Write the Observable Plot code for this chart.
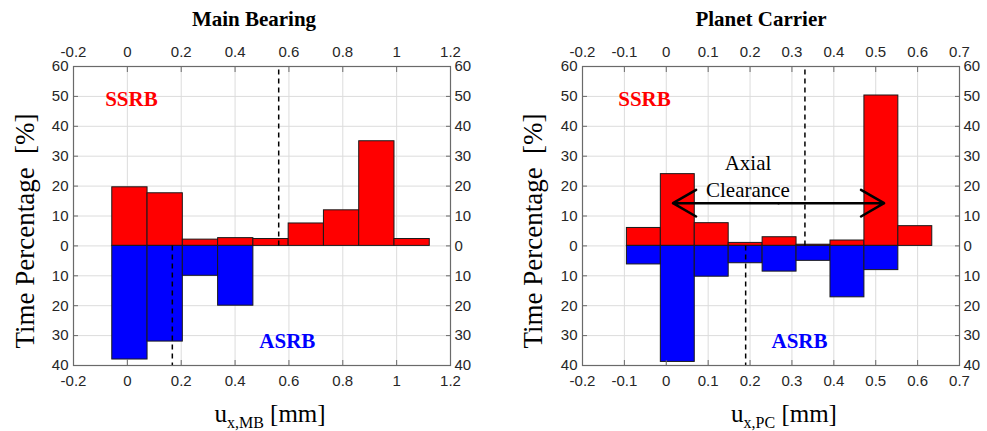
<!DOCTYPE html>
<html>
<head>
<meta charset="utf-8">
<script src="https://cdn.jsdelivr.net/npm/d3@7"></script>
<script src="https://cdn.jsdelivr.net/npm/@observablehq/plot@0.6"></script>
<style>
  html, body { margin: 0; padding: 0; background: #fff; }
  #wrap { display: flex; flex-direction: row; width: 987px; height: 431px; }
  #wrap svg { display: block; overflow: visible; }
</style>
</head>
<body>
<div id="wrap"></div>
<script>
// ---------- DATA ----------
// Main Bearing histogram
const mbBinEdges = [-0.056, 0.075, 0.206, 0.337, 0.468, 0.599, 0.730, 0.861, 0.992, 1.123];
const mbSSRB = [19.6, 17.6, 2.1, 2.6, 2.3, 7.5, 11.9, 35.0, 2.3];
const mbASRB = [38.0, 32.0, 10.0, 20.0, 0, 0, 0, 0, 0];
const mbDashTop = 0.562;     // dashed line, upper half
const mbDashBottom = 0.167;  // dashed line, lower half
const mbXTicks = [-0.2, 0, 0.2, 0.4, 0.6, 0.8, 1, 1.2];

// Planet Carrier histogram
const pcBinEdges = [-0.094, -0.013, 0.068, 0.149, 0.230, 0.311, 0.392, 0.473, 0.554, 0.635];
const pcSSRB = [6.0, 24.0, 7.6, 1.0, 2.9, 0.4, 1.8, 50.3, 6.6];
const pcASRB = [6.2, 38.8, 10.3, 5.8, 8.6, 5.0, 17.2, 8.1, 0];
const pcDashTop = 0.331;
const pcDashBottom = 0.1895;
const pcXTicks = [-0.2, -0.1, 0, 0.1, 0.2, 0.3, 0.4, 0.5, 0.6, 0.7];
const pcArrowEnds = [0.016, 0.520];
const pcArrowY = 14.3;

const yTicks = [-40, -30, -20, -10, 0, 10, 20, 30, 40, 50, 60];
const titles = ["Main Bearing", "Planet Carrier"];
const yLabel = "Time Percentage  [%]";

// ---------- DRAW ----------
const AXIS = "#6a6a6a";
const TXT = "#262626";
const SERIF = "'Liberation Serif', 'Times New Roman', serif";

function panel(o) {
  const bins = o.ssrb.map((v, i) => ({x1: o.edges[i], x2: o.edges[i + 1], ssrb: v, asrb: o.asrb[i]}));
  const fmt = d => String(Math.round(d * 10) / 10);
  const marks = [
    Plot.gridX(o.xTicks, {stroke: "#dcdcdc", strokeOpacity: 1}),
    Plot.gridY(yTicks, {stroke: "#dcdcdc", strokeOpacity: 1}),
    Plot.rect(bins.filter(d => d.ssrb > 0), {x1: "x1", x2: "x2", y1: () => 0, y2: "ssrb", fill: "#ff0000", stroke: "#1a1a1a", strokeWidth: 1}),
    Plot.rect(bins.filter(d => d.asrb > 0), {x1: "x1", x2: "x2", y1: () => 0, y2: d => -d.asrb, fill: "#0000ff", stroke: "#1a1a1a", strokeWidth: 1}),
    Plot.ruleX([o.dashTop], {y1: 0, y2: 60, stroke: "#000", strokeWidth: 1.5, strokeDasharray: "5,4"}),
    Plot.ruleX([o.dashBottom], {y1: 0, y2: -40, stroke: "#000", strokeWidth: 1.5, strokeDasharray: "5,4"}),
    Plot.text(["SSRB"], {x: o.ssrbX, y: 49, fill: "#ff0000", fontFamily: SERIF, fontWeight: "bold", fontSize: 21}),
    Plot.text(["ASRB"], {x: o.asrbX, y: -31.8, fill: "#0000ff", fontFamily: SERIF, fontWeight: "bold", fontSize: 21}),
    Plot.frame({stroke: AXIS, strokeWidth: 1.2}),
    Plot.axisX(o.xTicks, {anchor: "bottom", tickSize: -5, tickPadding: 15, tickFormat: fmt, stroke: AXIS, fill: TXT, label: null}),
    Plot.axisX(o.xTicks, {anchor: "top", tickSize: -5, tickPadding: 15, tickFormat: fmt, stroke: AXIS, fill: TXT, label: null}),
    Plot.axisY(yTicks, {anchor: "left", tickSize: -5, tickPadding: 10, tickFormat: d => String(Math.abs(d)), stroke: AXIS, fill: TXT, label: null}),
    Plot.axisY(yTicks, {anchor: "right", tickSize: -5, tickPadding: 9, tickFormat: d => String(Math.abs(d)), stroke: AXIS, fill: TXT, label: null}),
    Plot.text([o.title], {frameAnchor: "top", lineAnchor: "middle", dy: -47, dx: o.titleDx, fontFamily: SERIF, fontWeight: "bold", fontSize: 21, fill: "#000"}),
    Plot.text([yLabel], {frameAnchor: "left", textAnchor: "middle", lineAnchor: "middle", rotate: -90, dx: o.yLabelDx, dy: 15, fontFamily: SERIF, fontSize: 27, fill: "#000"}),
    Plot.text(["XLABEL"], {frameAnchor: "bottom", lineAnchor: "middle", dy: 48, dx: o.xLabelDx, fontFamily: SERIF, fontSize: 25, fill: "#000"})
  ];
  if (o.extra) marks.push(...o.extra);
  const svg = Plot.plot({
    width: o.width,
    height: 431,
    marginLeft: o.marginLeft,
    marginRight: o.marginRight,
    marginTop: 66,
    marginBottom: 66,
    x: {domain: o.xDomain},
    y: {domain: [-40, 60]},
    style: {fontFamily: "Arial, 'Liberation Sans', sans-serif", fontSize: "15px", color: TXT, background: "transparent", overflow: "visible"},
    marks
  });
  // x label with subscript
  d3.select(svg).selectAll("text").filter(function () { return this.textContent === "XLABEL"; })
    .each(function () {
      const t = d3.select(this).text(null);
      t.append("tspan").text("u");
      t.append("tspan").attr("font-size", 16).attr("dy", 6).text(o.sub);
      t.append("tspan").attr("dy", -6).text(" [mm]");
    });
  return svg;
}

const wrap = document.getElementById("wrap");

wrap.appendChild(panel({
  edges: mbBinEdges, ssrb: mbSSRB, asrb: mbASRB, dashTop: mbDashTop, dashBottom: mbDashBottom,
  xTicks: mbXTicks, xDomain: [-0.2, 1.2], title: titles[0], sub: "x,MB",
  ssrbX: 0.015, asrbX: 0.594,
  width: 490, marginLeft: 73, marginRight: 40, titleDx: -8, yLabelDx: -48, xLabelDx: 8
}));

wrap.appendChild(panel({
  edges: pcBinEdges, ssrb: pcSSRB, asrb: pcASRB, dashTop: pcDashTop, dashBottom: pcDashBottom,
  xTicks: pcXTicks, xDomain: [-0.2, 0.7], title: titles[1], sub: "x,PC",
  ssrbX: -0.052, asrbX: 0.318,
  width: 497, marginLeft: 92, marginRight: 28, titleDx: -10, yLabelDx: -49, xLabelDx: 13,
  extra: [
    Plot.arrow([0, 1], {x1: () => (pcArrowEnds[0] + pcArrowEnds[1]) / 2, x2: i => pcArrowEnds[i], y1: pcArrowY, y2: pcArrowY, stroke: "#000", strokeWidth: 2.5, headLength: 16, bend: 0}),
    Plot.text(["Axial\nClearance"], {x: 0.195, y: 23.8, lineHeight: 1.27, fontFamily: SERIF, fontSize: 21, fill: "#000"})
  ]
}));
</script>
</body>
</html>
